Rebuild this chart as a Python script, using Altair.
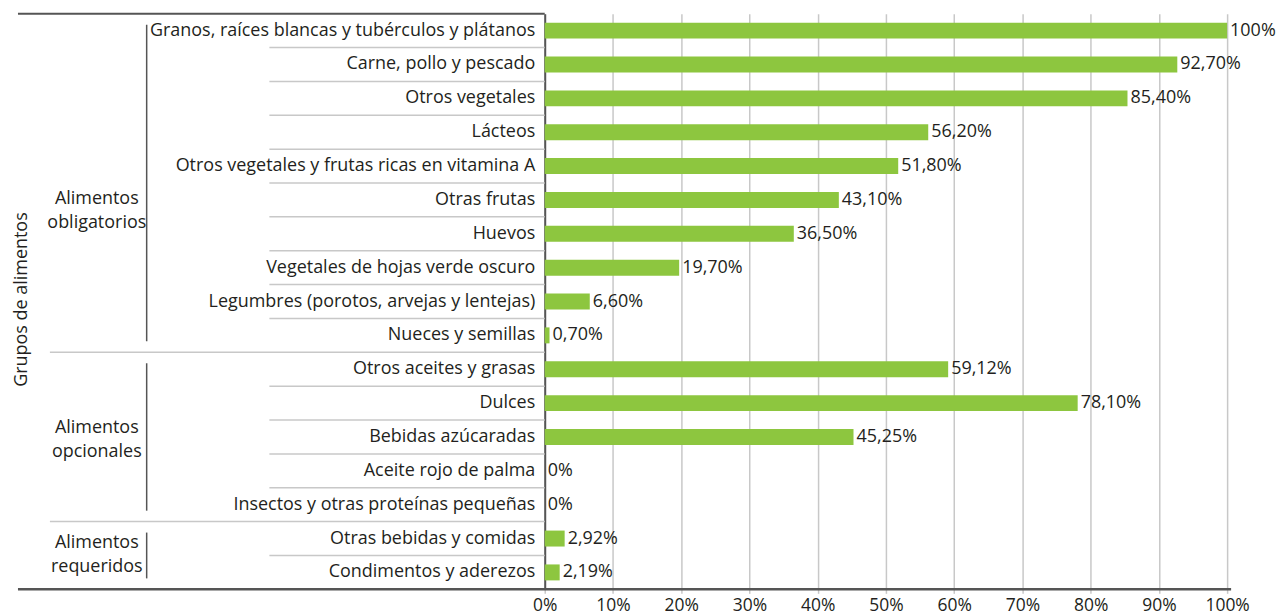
import altair as alt
import pandas as pd

categories = [
    "Granos, raíces blancas y tubérculos y plátanos",
    "Carne, pollo y pescado",
    "Otros vegetales",
    "Lácteos",
    "Otros vegetales y frutas ricas en vitamina A",
    "Otras frutas",
    "Huevos",
    "Vegetales de hojas verde oscuro",
    "Legumbres (porotos, arvejas y lentejas)",
    "Nueces y semillas",
    "Otros aceites y grasas",
    "Dulces",
    "Bebidas azúcaradas",
    "Aceite rojo de palma",
    "Insectos y otras proteínas pequeñas",
    "Otras bebidas y comidas",
    "Condimentos y aderezos",
]
values = [100, 92.7, 85.4, 56.2, 51.8, 43.1, 36.5, 19.7, 6.6, 0.7,
          59.12, 78.1, 45.25, 0, 0, 2.92, 2.19]
value_labels = ["100%", "92,70%", "85,40%", "56,20%", "51,80%", "43,10%", "36,50%",
                "19,70%", "6,60%", "0,70%", "59,12%", "78,10%", "45,25%", "0%", "0%",
                "2,92%", "2,19%"]
group_names = ["Alimentos\nobligatorios", "Alimentos\nopcionales", "Alimentos\nrequeridos"]
group_sizes = [10, 5, 2]
group_label_anchor = ["Otras frutas", "Bebidas azúcaradas", "Condimentos y aderezos"]
group_label_dy = [16, 8, -12]
x_ticks = [0, 10, 20, 30, 40, 50, 60, 70, 80, 90, 100]
axis_title = "Grupos de alimentos"

W, H = 684, 577
FONT = "Open Sans"
TXT = "#231f20"
GREEN = "#8dc63f"

groups = []
for g, n in zip(group_names, group_sizes):
    groups += [g] * n
df = pd.DataFrame({"cat": categories, "val": values, "lab": value_labels, "grp": groups})

last_in_group = []
idx = 0
for n in group_sizes:
    idx += n
    last_in_group.append(categories[idx - 1])
sep = pd.DataFrame({"cat": categories[:-1]})
sep["boundary"] = sep["cat"].isin(last_in_group)

brackets = []
idx = 0
for g, n in zip(group_names, group_sizes):
    brackets.append({"start": categories[idx], "end": categories[idx + n - 1]})
    idx += n
br = pd.DataFrame(brackets)

gl = pd.DataFrame({"cat": group_label_anchor, "name": group_names, "dy": group_label_dy})

yscale = alt.Scale(domain=categories, paddingInner=0, paddingOuter=0)

bars = alt.Chart(df).mark_bar(size=16, color=GREEN).encode(
    x=alt.X("val:Q", scale=alt.Scale(domain=[0, 100], nice=False),
            axis=alt.Axis(values=x_ticks, labelExpr="datum.value + '%'", grid=True,
                          gridColor="#c8c8c8", gridWidth=1.5, domain=False, ticks=True,
                          tickSize=4, tickColor="#c8c8c8", tickWidth=1.5,
                          labelFontSize=17.5, labelFont=FONT, labelColor=TXT, labelPadding=3,
                          labelFlush=False, title=None)),
    y=alt.Y("cat:N", scale=yscale,
            axis=alt.Axis(title=None, ticks=False, domain=True, domainColor="#555555",
                          domainWidth=2, labelFontSize=18, labelFont=FONT, labelColor=TXT,
                          labelPadding=10, labelLimit=700, grid=False)),
)

texts = alt.Chart(df).mark_text(align="left", baseline="middle", dx=3, fontSize=18,
                               font=FONT, color=TXT).encode(
    x="val:Q", y=alt.Y("cat:N", scale=yscale), text="lab:N")

sep_inner = alt.Chart(sep).transform_filter("!datum.boundary").mark_rule(
    color="#c8c8c8", strokeWidth=1.5).encode(
    y=alt.Y("cat:N", scale=yscale, bandPosition=1),
    x=alt.value(-276), x2=alt.value(0))
sep_group = alt.Chart(sep).transform_filter("datum.boundary").mark_rule(
    color="#c8c8c8", strokeWidth=1.5).encode(
    y=alt.Y("cat:N", scale=yscale, bandPosition=1),
    x=alt.value(-496), x2=alt.value(0))

bracket_rules = alt.Chart(br).mark_rule(color="#555555", strokeWidth=1.5,
                                        yOffset=-6, y2Offset=6).encode(
    y=alt.Y("start:N", scale=yscale), y2="end:N", x=alt.value(-399))

glabels = alt.Chart(gl).mark_text(align="center", baseline="middle", lineBreak="\n",
                                  fontSize=18, font=FONT, color=TXT, lineHeight=24).encode(
    y=alt.Y("cat:N", scale=yscale), yOffset=alt.YOffset("dy:Q", scale=None),
    x=alt.value(-449), text="name:N")

top_line = alt.Chart(pd.DataFrame({"a": [0]})).mark_rule(color="#555555", strokeWidth=2).encode(
    y=alt.value(0), x=alt.value(-528), x2=alt.value(0))
bottom_line = alt.Chart(pd.DataFrame({"a": [0]})).mark_rule(color="#555555", strokeWidth=2.5).encode(
    y=alt.value(H), x=alt.value(-528), x2=alt.value(W + 4))

title = alt.Chart(pd.DataFrame({"t": [axis_title]})).mark_text(
    angle=270, align="center", baseline="middle", fontSize=18, font=FONT, color=TXT).encode(
    x=alt.value(-524), y=alt.value(H / 2 - 2), text="t:N")

chart = alt.layer(sep_inner, sep_group, bracket_rules, bars, texts, glabels,
                  top_line, bottom_line, title).properties(
    width=W, height=H,
    autosize=alt.AutoSizeParams(type="none"),
    padding={"left": 538, "top": 5, "right": 50, "bottom": 26},
).configure_view(stroke=None)

chart.save("out.html", embed_options={"renderer": "svg", "actions": False})
